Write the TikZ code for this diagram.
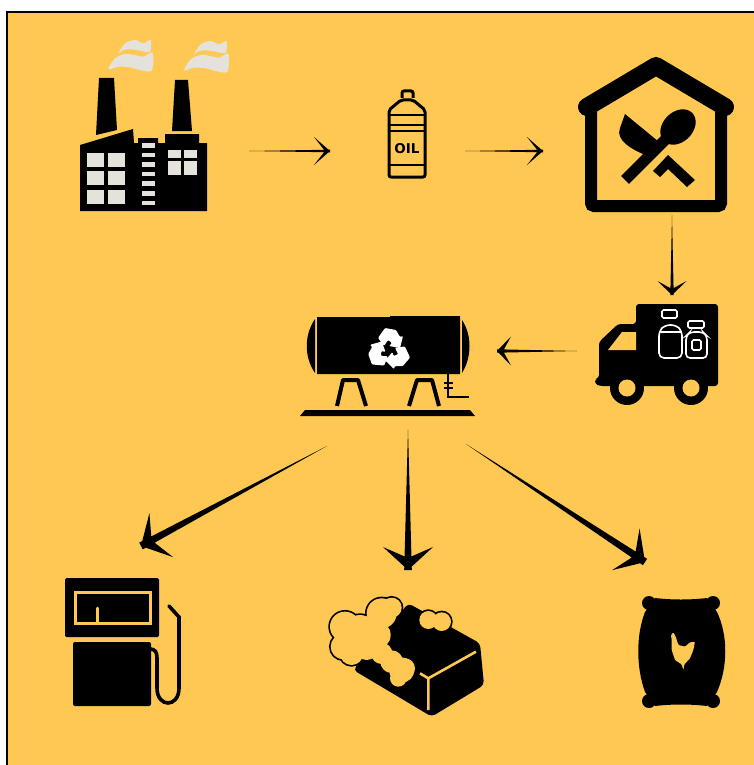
\documentclass[tikz,border=0pt]{standalone}
\usepackage{fontspec}
\setmainfont{DejaVu Sans}
\usetikzlibrary{calc,positioning}
\definecolor{panel}{HTML}{FEC852}
\definecolor{steam}{HTML}{E5E2DC}

\begin{document}
\begin{tikzpicture}[
    x=1pt, y=-1pt,
    node distance=80pt,
    slot/.style={inner sep=0pt, outer sep=0pt, minimum width=#1},
    flow/.style n args={4}{to path={
        -- ($(\tikztotarget)!#1!90:(\tikztostart)$) -- (\tikztotarget)
        -- ($(\tikztotarget)!#1!-90:(\tikztostart)$) -- cycle
        (\tikztotarget) -- ($(\tikztotarget)!#2!(\tikztostart)!#3!-90:(\tikztostart)$)
        -- ($(\tikztotarget)!#4!(\tikztostart)$)
        -- ($(\tikztotarget)!#2!(\tikztostart)!#3!90:(\tikztostart)$) -- cycle
        (\tikztotarget)}},
    thinflow/.style={flow={1.3pt}{16pt}{14pt}{5pt}},
    midflow/.style={flow={1.7pt}{14pt}{14.5pt}{6pt}},
    fatflow/.style={flow={3.8pt}{23pt}{25pt}{12pt}},
    pane/.style={fill=steam},
    leg/.style={line width=4pt, line join=round},
    jar/.style={draw=white, line width=1.6pt, rounded corners=1.5pt}
]
\useasboundingbox (0,0) rectangle (754,765);
\fill[white] (0,0) rectangle (754,765);
\fill[panel, draw=black, line width=2.5pt] (7,12) rectangle (760,775);

% slots that carry the connectors
\node[slot=169pt, minimum height=120pt] (factory) at (164.5,151) {};
\node[slot=135pt, minimum height=90pt, right=81pt of factory] (bottle) {};
\node[slot=258pt, minimum height=128pt, right=78pt of bottle] (house) {};
\node[slot=190pt, minimum height=112pt, below=80pt of house] (truck) {};
\node[slot=178pt, minimum height=158pt, left=80pt of truck] (tank) {};
\node[slot=152pt, minimum height=188pt] (pump) at (141,640) {};
\node[slot=160pt, minimum height=160pt, below=140pt of tank] (soap) {};
\node[slot=90pt, minimum height=156pt] (feed) at (690,640) {};
\coordinate (tankleft) at (327,446);
\coordinate (tankright) at (466,444);

% factory
\foreach \sx/\sy in {60/30,135.7/31}{
  \begin{scope}[shift={(\sx,\sy)}, scale=1/3]
    \fill[steam] plot[smooth cycle, tension=0.5] coordinates {(175,70) (195,40) (225,30) (250,40) (272,30) (270,65) (240,62) (215,58) (190,60)};
    \fill[steam] plot[smooth cycle, tension=0.5] coordinates {(145,118) (165,85) (195,72) (225,75) (250,80) (278,68) (275,122) (240,120) (210,112) (175,110)};
  \end{scope}
}
\fill (99,78) -- (114,78) -- (117,130) -- (96,135) -- cycle;
\fill (175,80) -- (188,80) -- (192,131) -- (172,131) -- cycle;
\fill (80,145) -- (133,129) -- (134,143) -- (138,143) -- (138,138) -- (158,138) -- (158,143) -- (165,143) -- (165,134) -- (199,134) -- (199,143) -- (207,143) -- (207,211) -- (80,211) -- cycle;
\foreach \wy in {153,171,190}{
  \fill[pane] (87,\wy) rectangle +(17,14);
  \fill[pane] (108,\wy) rectangle +(17,14);
}
\foreach \wn in {0,...,6}{
  \fill[pane] (142,143+\wn*9.6) rectangle +(13,4.5);
}
\fill[pane] (168,150) rectangle (181,158);
\fill[pane] (184,150) rectangle (197,158);
\fill[pane] (168,161) rectangle (181,175);
\fill[pane] (184,161) rectangle (197,175);

% oil bottle
\draw[line width=3pt, line join=round, rounded corners=2pt] (401,100) -- (389,110) -- (389,177) -- (425,177) -- (425,110) -- (413,100) -- cycle;
\draw[line width=3pt, rounded corners=2pt] (402,98) -- (402,91) -- (413,91) -- (413,98);
\draw[line width=2.6pt] (389,115) -- (425,115) (389,125) -- (425,125) (389,131) -- (425,131) (389,165) -- (425,165);
\node[inner sep=0pt, font=\fontsize{13.5}{14}\selectfont\bfseries] (oil) at (407,149) {OIL};

% canteen
\draw[line width=18pt, line cap=round, line join=round] (587,107) -- (656,66) -- (725,107);
\draw[line width=12pt, rounded corners=3pt] (591,108) -- (591,206) -- (721,206) -- (721,108);
\fill (625,114) -- (659,142) -- (648,156) .. controls (632,150) and (615,140) .. (620,128) -- cycle;
\fill[rotate around={45:(678,127)}] (678,127) ellipse (20pt and 15pt);
\draw[line width=11pt] (668,137) -- (625,180);
\fill (653,171) -- (668,155) -- (695,180) -- (687,187) -- (668,169) -- (660,177) -- cycle;

% tank
\fill (317,317) -- (390,317) -- (390,316) -- (460,316) -- (460,374) -- (317,374) -- cycle;
\fill (315,319) .. controls (304,335) and (304,357) .. (315,373) -- cycle;
\fill (462,320) .. controls (472,335) and (472,357) .. (462,373) -- cycle;
\begin{scope}[shift={(389,350)}]
  \foreach \ra in {0,120,240}{
    \fill[white, rotate=\ra, rounded corners=1pt] (-11,-12) -- (-4,-22) -- (7,-20) -- (11,-13) -- (14,-14) -- (11,-2) -- (0,-4) -- (3,-7) -- (-1,-10) -- (-5,-4) -- cycle;
  }
\end{scope}
\draw[leg] (337,406) -- (343,380) -- (358,380) -- (366,406);
\draw[leg] (409,406) -- (417,380) -- (432,380) -- (439,406);
\draw[line width=2.2pt] (448,374) -- (448,397) -- (469,397);
\draw[line width=2pt] (444,383) -- (453,383) (444,388) -- (453,388);
\fill (305,410) -- (470,410) -- (475,416) -- (300,416) -- cycle;

% truck
\fill[rounded corners=3pt] (636,304) -- (718,304) -- (718,386) -- (600,386) -- (595,384) -- (595,379) -- (599,378) -- (599,342) -- (618,324) -- (636,324) -- cycle;
\fill[panel] (608,350) -- (622,332) -- (636,332) -- (636,350) -- cycle;
\foreach \tx in {627,691}{
  \fill (\tx,388) circle (17pt);
  \fill[panel] (\tx,388) circle (8.5pt);
}
\draw[jar, rounded corners=5pt] (659,358) -- (659,331) -- (665,325) -- (676,325) -- (682,331) -- (682,358) -- cycle;
\draw[draw=white, line width=1.4pt] (659,332) -- (682,332);
\draw[jar] (662,310) rectangle (677,318);
\draw[jar, rounded corners=4pt] (686,358) -- (686,336) -- (690,332) -- (703,332) -- (707,336) -- (707,358) -- cycle;
\draw[jar] (688,321) rectangle (704,328);
\draw[jar] (692,340) rectangle (701,350);

% fuel pump
\fill[rounded corners=1.5pt] (65,578) rectangle (159,637);
\draw[panel, line width=3pt] (75,592) rectangle (150,623);
\draw[panel, line width=3pt, line cap=round] (97,622) -- (97,608);
\fill[rounded corners=2pt] (73,642) rectangle (151,706);
\draw[line width=3.6pt, line cap=round] (150,649) .. controls (155,649) and (157,652) .. (157,658) -- (157,688) .. controls (157,708) and (179,708) .. (179,688) -- (179,617) -- (169,606);

% soap
\begin{scope}[shift={(320,585)}, scale=1/3]
  \fill[rounded corners=4pt] (100,255) -- (265,55) -- (480,175) -- (492,300) -- (335,395) -- cycle;
  \draw[panel, line width=2.6pt, line join=round] (468,200) -- (325,280) -- (300,265) (325,280) -- (325,375);
  \foreach \fx/\fy/\fr in {75/125/45,70/185/38,95/205/35,120/140/50,185/85/45,215/68/30,170/150/42,140/190/35,185/205/32,215/230/34,245/255/38,255/250/30,235/280/25,325/105/27,365/110/28}{
    \draw[line width=3.4pt] (\fx,\fy) circle (\fr);
  }
  \foreach \fx/\fy/\fr in {75/125/45,70/185/38,95/205/35,120/140/50,185/85/45,215/68/30,170/150/42,140/190/35,185/205/32,215/230/34,245/255/38,255/250/30,235/280/25,325/105/27,365/110/28}{
    \fill[panel] (\fx,\fy) circle (\fr);
  }
\end{scope}

% feed bag
\foreach \ex/\ey in {649/603,713/603,649/701,713/701}{
  \fill (\ex,\ey) circle (7pt);
}
\fill (655,598) .. controls (672,600) and (690,600) .. (707,598) -- (717,612) .. controls (728,635) and (728,667) .. (717,692) -- (707,706) .. controls (690,704) and (672,704) .. (655,706) -- (645,692) .. controls (636,667) and (636,635) .. (645,612) -- cycle;
\begin{scope}[shift={(625,585)}, scale=1/3]
  \fill[panel, rounded corners=1pt] (138,150) -- (145,142) -- (152,155) -- (160,180) -- (180,185) -- (195,172) -- (210,170) -- (205,195) -- (195,220) -- (178,238) -- (175,255) -- (170,238) -- (150,225) -- (140,195) -- (140,165) -- cycle;
\end{scope}

% connectors
\fill (factory.east) to[thinflow] (bottle.west);
\fill (bottle.east) to[thinflow] (house.west);
\fill (house.south) to[midflow] (truck.north);
\fill (truck.west) to[midflow] (tank.east);
\fill (tankleft) to[fatflow] (pump.north);
\fill (tank.south) to[fatflow] (soap.north);
\fill (tankright) to[fatflow] (feed.north west);
\end{tikzpicture}
\end{document}
